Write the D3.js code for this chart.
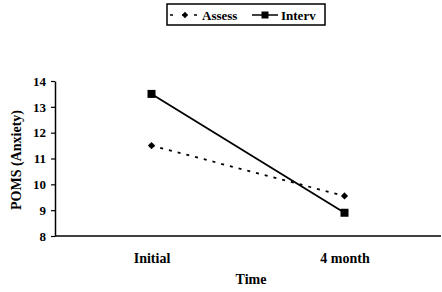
<!DOCTYPE html>
<html>
<head>
<meta charset="utf-8">
<script src="https://cdn.jsdelivr.net/npm/d3@7"></script>
<style>
  body { margin: 0; background: #fff; }
  text { font-family: "Liberation Serif", "DejaVu Serif", serif; font-weight: bold; fill: #000; }
</style>
</head>
<body>
<svg width="442" height="292"></svg>
<script>
const times = ["Initial", "4 month"];
const assess = [11.5, 9.55];
const interv = [13.5, 8.9];
const yTicks = [8, 9, 10, 11, 12, 13, 14];

const svg = d3.select("svg");
const plotLeft = 55, plotRight = 441, plotTop = 81, plotBottom = 236;

const x = d3.scalePoint().domain(times).range([plotLeft, plotRight]).padding(0.5);
const y = d3.scaleLinear().domain([8, 14]).range([plotBottom, plotTop]);

// y axis
const yAxis = svg.append("g")
  .attr("transform", `translate(${plotLeft},0)`)
  .call(d3.axisLeft(y).tickValues(yTicks).tickFormat(d3.format("d")).tickSize(4).tickSizeOuter(0));
yAxis.select(".domain").attr("stroke", "#000").attr("stroke-width", 1.5);
yAxis.selectAll(".tick line").attr("stroke", "#000").attr("stroke-width", 1.2);
yAxis.selectAll(".tick text").attr("x", -9).style("font-size", "13px").style("font-family", "Liberation Serif").style("font-weight", "bold");

// x axis
const xAxis = svg.append("g")
  .attr("transform", `translate(0,${plotBottom})`)
  .call(d3.axisBottom(x).tickSize(0).tickSizeOuter(0));
xAxis.select(".domain").attr("d", `M${plotLeft},0H${plotRight}`).attr("stroke", "#000").attr("stroke-width", 1.5);
xAxis.selectAll(".tick text").attr("y", 17).style("font-size", "14px").style("font-family", "Liberation Serif").style("font-weight", "bold");

// axis titles
svg.append("text")
  .attr("x", 251).attr("y", 284)
  .attr("text-anchor", "middle")
  .style("font-size", "14px")
  .text("Time");
svg.append("text")
  .attr("transform", "translate(21,160) rotate(-90)")
  .attr("text-anchor", "middle")
  .style("font-size", "14px")
  .text("POMS (Anxiety)");

const line = d3.line().x((d, i) => x(times[i])).y(d => y(d));

// Assess dashed
svg.append("path").datum(assess)
  .attr("d", line).attr("fill", "none")
  .attr("stroke", "#000").attr("stroke-width", 1.8)
  .attr("stroke-dasharray", "3,6");
svg.selectAll(".dia").data(assess).enter().append("path")
  .attr("d", d3.symbol(d3.symbolSquare, 26))
  .attr("transform", (d, i) => `translate(${x(times[i])},${y(d)}) rotate(45)`)
  .attr("fill", "#000");

// Interv solid
svg.append("path").datum(interv)
  .attr("d", line).attr("fill", "none")
  .attr("stroke", "#000").attr("stroke-width", 1.8);
svg.selectAll(".sq").data(interv).enter().append("rect")
  .attr("x", (d, i) => x(times[i]) - 4)
  .attr("y", d => y(d) - 4)
  .attr("width", 8).attr("height", 8)
  .attr("fill", "#000");

// legend
const lg = svg.append("g");
lg.append("rect").attr("x", 167).attr("y", 4).attr("width", 158).attr("height", 21)
  .attr("fill", "none").attr("stroke", "#000").attr("stroke-width", 1.5);
lg.append("line").attr("x1", 170).attr("x2", 197).attr("y1", 15).attr("y2", 15)
  .attr("stroke", "#000").attr("stroke-width", 1.5).attr("stroke-dasharray", "3,9");
lg.append("path").attr("d", d3.symbol(d3.symbolSquare, 20)).attr("transform", "translate(185,15) rotate(45)");
lg.append("text").attr("x", 202).attr("y", 20).style("font-size", "13px").text("Assess");
lg.append("line").attr("x1", 252).attr("x2", 278).attr("y1", 15).attr("y2", 15)
  .attr("stroke", "#000").attr("stroke-width", 1.5);
lg.append("rect").attr("x", 261.5).attr("y", 11.5).attr("width", 7).attr("height", 7);
lg.append("text").attr("x", 281).attr("y", 20).style("font-size", "13px").text("Interv");
</script>
</body>
</html>
